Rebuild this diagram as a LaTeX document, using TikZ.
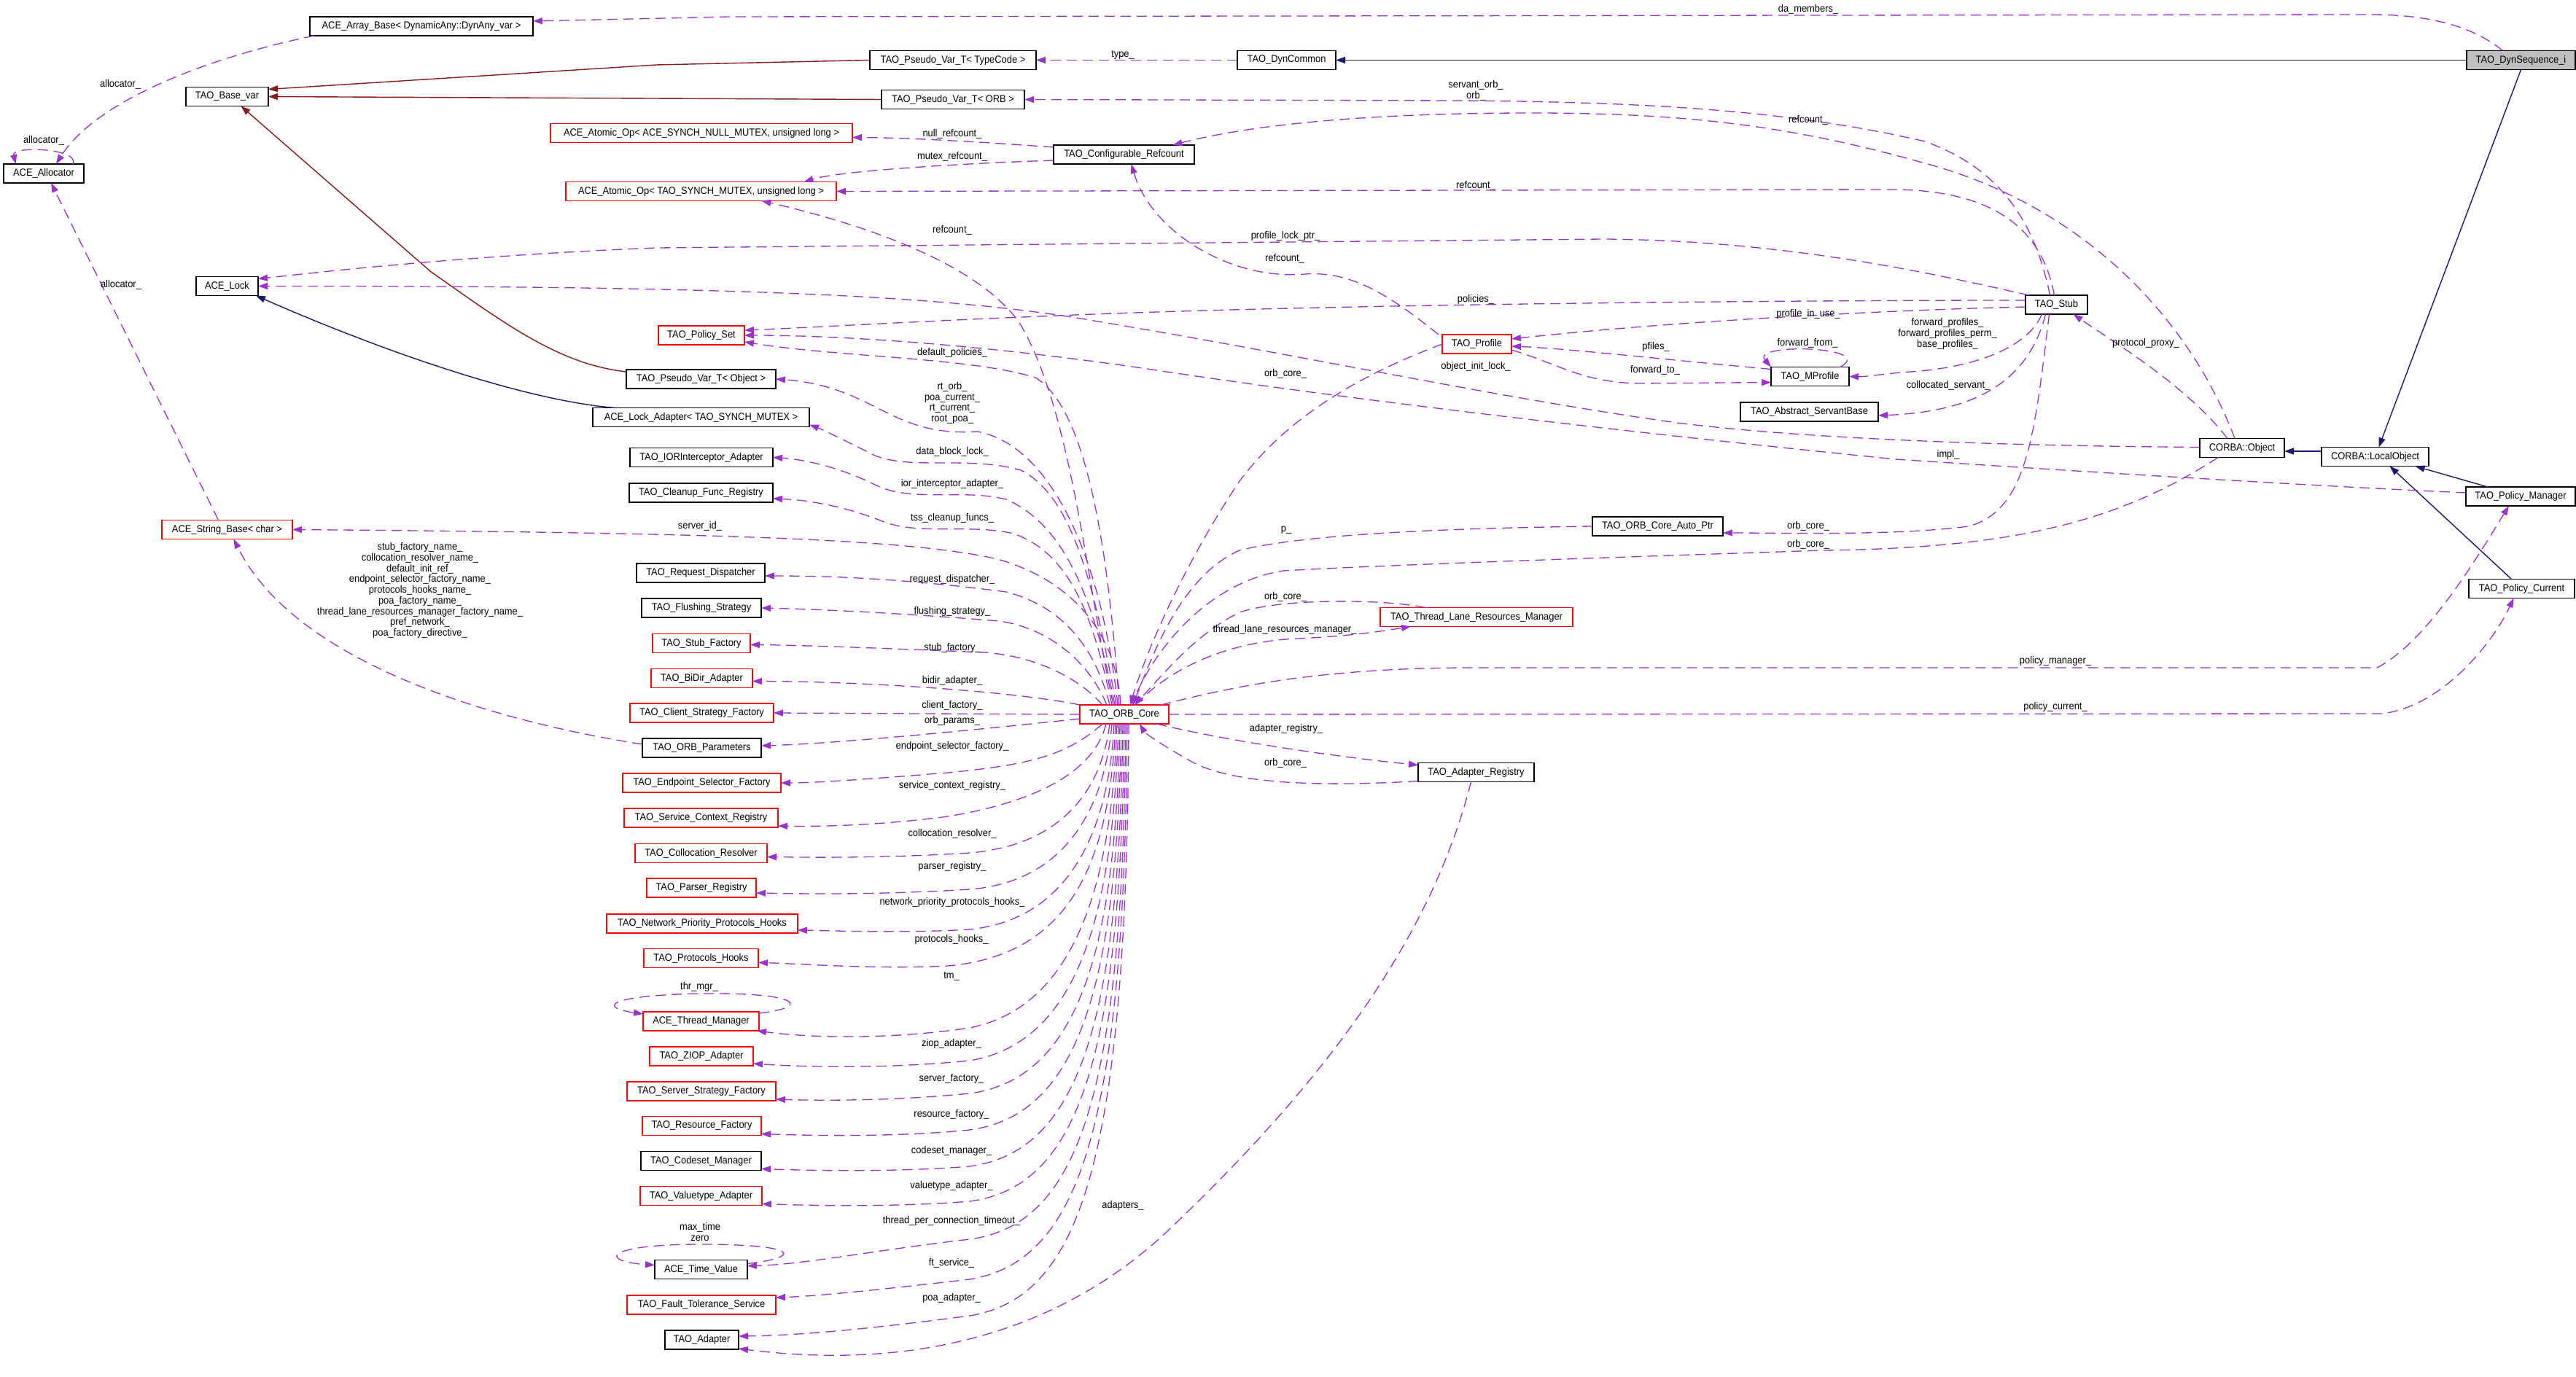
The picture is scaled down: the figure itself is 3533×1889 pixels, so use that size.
\documentclass[tikz,border=0pt]{standalone}
\usepackage{fontspec}
\setmainfont{Liberation Sans}[FakeStretch=0.92]
\usetikzlibrary{arrows.meta}
\definecolor{depc}{HTML}{9A32CD}
\definecolor{inhc}{HTML}{191970}
\definecolor{tmplc}{HTML}{8B1A1A}
\tikzset{
 nb/.style={draw=black, line width=1.2pt, inner sep=0pt, outer sep=0pt, minimum height=26pt, font=\fontsize{14}{15}\selectfont, fill=white},
 nr/.style={nb, draw=red},
 ng/.style={nb, fill={rgb,255:red,191;green,191;blue,191}},
 lab/.style={inner sep=0pt, font=\fontsize{14}{14.7}\selectfont, align=center},
 dep/.style={draw=depc, line width=1.3pt, dash pattern=on 14pt off 8pt, -{Triangle[length=13pt,width=9pt]}},
 inh/.style={draw=inhc, line width=1.4pt, -{Triangle[length=13pt,width=9pt]}},
 tmpl/.style={draw=tmplc, line width=1.4pt, -{Triangle[length=13pt,width=9pt]}},
}
\begin{document}
\begin{tikzpicture}[x=1pt,y=-1pt]
\fill[white] (0,0) rectangle (3533,1889);
\useasboundingbox (0,0) rectangle (3533,1889);
% nodes
\node[ng,minimum width=149pt] (dynseq) at (3457.5,82.5) {TAO\_DynSequence\_i};
\node[nb,minimum width=135pt] (dyncommon) at (1764.5,82.5) {TAO\_DynCommon};
\node[nb,minimum width=228pt] (pvtc) at (1307,82.5) {TAO\_Pseudo\_Var\_T< TypeCode >};
\node[nb,minimum width=306pt] (arraybase) at (578,36) {ACE\_Array\_Base< DynamicAny::DynAny\_var >};
\node[nb,minimum width=113pt] (basevar) at (311.5,132.5) {TAO\_Base\_var};
\node[nb,minimum width=110pt] (allocator) at (60,238) {ACE\_Allocator};
\node[nb,minimum width=196pt] (pvorb) at (1307,136.5) {TAO\_Pseudo\_Var\_T< ORB >};
\node[nr,minimum width=414pt] (atomicnull) at (962,182.5) {ACE\_Atomic\_Op< ACE\_SYNCH\_NULL\_MUTEX, unsigned long >};
\node[nb,minimum width=193pt] (confref) at (1541.5,212) {TAO\_Configurable\_Refcount};
\node[nr,minimum width=371pt] (atomicmutex) at (961.5,262.5) {ACE\_Atomic\_Op< TAO\_SYNCH\_MUTEX, unsigned long >};
\node[nb,minimum width=85pt] (acelock) at (311.5,392.5) {ACE\_Lock};
\node[nr,minimum width=118pt] (policyset) at (962,460) {TAO\_Policy\_Set};
\node[nb,minimum width=205pt] (pvobj) at (961.5,520) {TAO\_Pseudo\_Var\_T< Object >};
\node[nb,minimum width=297pt] (lockadapter) at (961.5,572.5) {ACE\_Lock\_Adapter< TAO\_SYNCH\_MUTEX >};
\node[nb,minimum width=196pt] (iorint) at (962,627.5) {TAO\_IORInterceptor\_Adapter};
\node[nb,minimum width=197pt] (cleanup) at (961.5,676) {TAO\_Cleanup\_Func\_Registry};
\node[nr,minimum width=179pt] (stringbase) at (311.5,726.5) {ACE\_String\_Base< char >};
\node[nb,minimum width=176pt] (reqdisp) at (961,786) {TAO\_Request\_Dispatcher};
\node[nb,minimum width=164pt] (flushing) at (962,834) {TAO\_Flushing\_Strategy};
\node[nr,minimum width=134pt] (stubfac) at (962,882.5) {TAO\_Stub\_Factory};
\node[nr,minimum width=139pt] (bidir) at (962.5,930.5) {TAO\_BiDir\_Adapter};
\node[nr,minimum width=197pt] (clientfac) at (962.5,978) {TAO\_Client\_Strategy\_Factory};
\node[nb,minimum width=163pt] (orbparams) at (962.5,1026) {TAO\_ORB\_Parameters};
\node[nr,minimum width=217pt] (endpoint) at (962.5,1074) {TAO\_Endpoint\_Selector\_Factory};
\node[nr,minimum width=211pt] (servctx) at (961.5,1122) {TAO\_Service\_Context\_Registry};
\node[nr,minimum width=181pt] (colloc) at (961.5,1170.5) {TAO\_Collocation\_Resolver};
\node[nr,minimum width=150pt] (parser) at (962,1218) {TAO\_Parser\_Registry};
\node[nr,minimum width=262pt] (netprio) at (963,1267) {TAO\_Network\_Priority\_Protocols\_Hooks};
\node[nr,minimum width=157pt] (prothooks) at (961.5,1314.5) {TAO\_Protocols\_Hooks};
\node[nr,minimum width=159pt] (thrmgr) at (961.5,1401) {ACE\_Thread\_Manager};
\node[nr,minimum width=142pt] (ziop) at (962,1449) {TAO\_ZIOP\_Adapter};
\node[nr,minimum width=204pt] (serverfac) at (962,1497) {TAO\_Server\_Strategy\_Factory};
\node[nr,minimum width=163pt] (resfac) at (962.5,1544.5) {TAO\_Resource\_Factory};
\node[nb,minimum width=165pt] (codeset) at (961.5,1592.5) {TAO\_Codeset\_Manager};
\node[nr,minimum width=167pt] (valuetype) at (961.5,1640.5) {TAO\_Valuetype\_Adapter};
\node[nb,minimum width=127pt] (timevalue) at (961.5,1741.5) {ACE\_Time\_Value};
\node[nr,minimum width=204pt] (ftserv) at (962,1790) {TAO\_Fault\_Tolerance\_Service};
\node[nb,minimum width=101pt] (adapter) at (962.5,1838) {TAO\_Adapter};
\node[nr,minimum width=122pt] (orbcore) at (1542,980) {TAO\_ORB\_Core};
\node[nr,minimum width=95pt] (profile) at (2025.5,472) {TAO\_Profile};
\node[nb,minimum width=107pt] (mprofile) at (2482.5,516.5) {TAO\_MProfile};
\node[nb,minimum width=189pt] (servantbase) at (2481.5,565) {TAO\_Abstract\_ServantBase};
\node[nb,minimum width=85pt] (stub) at (2820.5,418) {TAO\_Stub};
\node[nb,minimum width=116pt] (corbaobj) at (3075,614.5) {CORBA::Object};
\node[nb,minimum width=147pt] (localobj) at (3257.5,626.5) {CORBA::LocalObject};
\node[nb,minimum width=150pt] (polman) at (3457,681) {TAO\_Policy\_Manager};
\node[nb,minimum width=145pt] (polcur) at (3458.5,807.5) {TAO\_Policy\_Current};
\node[nb,minimum width=179pt] (autoptr) at (2273.5,722) {TAO\_ORB\_Core\_Auto\_Ptr};
\node[nr,minimum width=264pt] (tlrm) at (2025,846.5) {TAO\_Thread\_Lane\_Resources\_Manager};
\node[nb,minimum width=159pt] (adreg) at (2024.5,1059.5) {TAO\_Adapter\_Registry};
% inheritance / template edges
\draw[inh] (dynseq.west) -- (dyncommon.east);
\draw[inh] (dynseq.south) -- ([xshift=5pt]localobj.north);
\draw[inh] ([yshift=7.5pt]localobj.west) -- ([yshift=-4.5pt]corbaobj.east);
\draw[inh] ([xshift=-45pt]polman.north) -- ([xshift=55pt]localobj.south);
\draw[inh] ([xshift=-14pt]polcur.north) -- ([xshift=20pt]localobj.south);
\draw[inh] ([xshift=31pt]lockadapter.north west) .. controls (720,550) and (520,480) .. ([xshift=-3pt]acelock.south east);
\draw[tmpl] (pvtc.west) -- (900,89) -- ([yshift=10pt]basevar.east);
\draw[tmpl] (pvorb.west) -- (basevar.east);
\draw[tmpl] ([yshift=10pt]pvobj.west) .. controls (770,500) and (700,450) .. (590,372) -- ([xshift=19pt]basevar.south);
% dependency edges
\draw[dep] ([xshift=-25pt]dynseq.north) .. controls (3390,35) and (3330,20) .. (3250,20) -- (1000,23) -- ([yshift=7pt]arraybase.east);
\draw[dep] (dyncommon.west) -- (pvtc.east);
\draw[dep] ([xshift=6pt]arraybase.south west) .. controls (280,80) and (130,140) .. ([xshift=17pt]allocator.north);
\draw[dep] ([xshift=40pt]allocator.north) .. controls (110,203) and (15,200) .. ([xshift=-38pt]allocator.north);
\draw[dep] ([xshift=-12pt]stringbase.north) -- ([xshift=10pt]allocator.south);
\draw[dep] ([xshift=-5pt]orbcore.north) .. controls (1530,850) and (1450,790) .. (1368,767) .. controls (1250,740) and (1000,731) .. (stringbase.east);
\draw[dep] ([yshift=5pt]orbparams.west) .. controls (650,985) and (400,900) .. ([xshift=9pt]stringbase.south);
\draw[dep] ([yshift=10pt]confref.west) .. controls (1350,195) and (1250,189) .. ([yshift=-6pt]atomicnull.east);
\draw[dep] ([yshift=-8pt]confref.west) .. controls (1300,225) and (1150,235) .. ([xshift=141pt]atomicmutex.north);
\draw[dep] ([xshift=-10pt]corbaobj.north) .. controls (3000,430) and (2850,280) .. (2640,224) .. controls (2450,170) and (2300,155) .. (2100,155) .. controls (1850,155) and (1700,175) .. ([xshift=67pt]confref.north);
\draw[dep] ([xshift=-5pt]profile.north west) .. controls (1900,400) and (1850,372) .. (1790,376) .. controls (1690,385) and (1580,320) .. ([xshift=10pt]confref.south);
\draw[dep] ([xshift=-15pt]orbcore.north) .. controls (1490,800) and (1470,560) .. (1397,441) .. controls (1330,350) and (1150,300) .. ([xshift=83pt]atomicmutex.south);
\draw[dep] ([xshift=-3pt]stub.north) .. controls (2800,310) and (2730,262) .. (2600,260) -- (atomicmutex.east);
\draw[dep] ([xshift=-9pt]stub.north) .. controls (2790,300) and (2740,230) .. (2640,194) .. controls (2450,150) and (2250,140) .. (2000,138) -- (pvorb.east);
\draw[dep] ([xshift=5pt]stub.north west) .. controls (2650,375) and (2450,330) .. (2200,328) -- (900,340) .. controls (650,350) and (450,372) .. ([yshift=10pt]acelock.east);
\draw[dep] ([yshift=1pt]corbaobj.west) .. controls (2800,612) and (2500,605) .. (2300,580) .. controls (2050,545) and (1800,490) .. (1500,440) .. controls (1300,405) and (1000,392) .. (acelock.east);
\draw[dep] ([yshift=5pt]polman.west) .. controls (3200,668) and (2900,650) .. (2600,630) .. controls (2300,600) and (1900,555) .. (1600,510) .. controls (1350,472) and (1150,460) .. (policyset.east);
\draw[dep] ([yshift=6pt]stub.west) .. controls (2400,412) and (1800,418) .. (1450,433) .. controls (1250,441) and (1100,450) .. ([yshift=7pt]policyset.east);
\draw[dep] ([xshift=-7pt]orbcore.north) .. controls (1520,750) and (1490,560) .. (1420,518) .. controls (1330,490) and (1150,490) .. ([yshift=-9pt]policyset.east);
\draw[dep] ([xshift=-9pt]orbcore.north) .. controls (1510,760) and (1440,610) .. (1340,592) .. controls (1220,600) and (1200,530) .. (pvobj.east);
\draw[dep] ([xshift=-11pt]orbcore.north) .. controls (1500,800) and (1470,680) .. (1400,645) .. controls (1330,625) and (1250,645) .. (1200,625) .. controls (1160,605) and (1130,590) .. ([yshift=-10pt]lockadapter.east);
\draw[dep] ([xshift=-13pt]orbcore.north) .. controls (1500,820) and (1460,720) .. (1380,685) .. controls (1320,670) and (1250,690) .. (1200,665) .. controls (1150,640) and (1100,630) .. (iorint.east);
\draw[dep] ([xshift=-17pt]orbcore.north) .. controls (1500,850) and (1470,760) .. (1390,732) .. controls (1330,718) and (1260,735) .. (1210,715) .. controls (1160,695) and (1110,686) .. ([yshift=-8pt]cleanup.east);
\draw[dep] ([xshift=-20pt]orbcore.north) .. controls (1500,880) and (1450,830) .. (1380,812) .. controls (1250,795) and (1150,790) .. ([yshift=-4pt]reqdisp.east);
\draw[dep] ([xshift=-24pt]orbcore.north) .. controls (1490,900) and (1430,860) .. (1370,852) .. controls (1250,842) and (1130,836) .. (flushing.east);
\draw[dep] ([xshift=-30pt]orbcore.north) .. controls (1480,930) and (1420,900) .. (1350,895) .. controls (1230,890) and (1100,885) .. ([yshift=-2pt]stubfac.east);
\draw[dep] (orbcore.north west) .. controls (1400,950) and (1200,935) .. ([yshift=-4pt]bidir.east);
\draw[dep] (orbcore.west) -- (clientfac.east);
\draw[dep] ([yshift=-6pt]orbcore.west) .. controls (1350,1000) and (1150,1020) .. ([yshift=3pt]orbparams.east);
\draw[dep] ([xshift=-30pt]orbcore.south) .. controls (1460,1040) and (1400,1050) .. (1300,1060) .. controls (1200,1068) and (1120,1074) .. (endpoint.east);
\draw[dep] ([xshift=-25pt]orbcore.south) .. controls (1500,1060) and (1420,1100) .. (1300,1120) .. controls (1200,1133) and (1120,1134) .. ([yshift=-11pt]servctx.east);
\draw[dep] ([xshift=-20pt]orbcore.south) .. controls (1510,1090) and (1450,1160) .. (1330,1170) .. controls (1200,1178) and (1100,1176) .. ([yshift=-5pt]colloc.east);
\draw[dep] ([xshift=-17pt]orbcore.south) .. controls (1515,1110) and (1460,1210) .. (1330,1220) .. controls (1200,1228) and (1100,1226) .. ([yshift=-7pt]parser.east);
\draw[dep] ([xshift=-14pt]orbcore.south) .. controls (1520,1150) and (1460,1262) .. (1330,1275) .. controls (1250,1280) and (1150,1277) .. ([yshift=-9pt]netprio.east);
\draw[dep] ([xshift=-12pt]orbcore.south) .. controls (1522,1180) and (1470,1310) .. (1300,1325) .. controls (1200,1330) and (1100,1322) .. ([yshift=-6pt]prothooks.east);
\draw[dep] ([xshift=-10pt]orbcore.south) .. controls (1525,1200) and (1480,1380) .. (1330,1410) .. controls (1230,1425) and (1120,1425) .. ([xshift=-3pt]thrmgr.south east);
\draw[dep] ([yshift=-2pt]thrmgr.north east) .. controls (1110,1382) and (1100,1363) .. (980,1363) .. controls (850,1363) and (810,1380) .. ([yshift=-3pt]thrmgr.north west);
\draw[dep] ([xshift=-8pt]orbcore.south) .. controls (1527,1250) and (1480,1430) .. (1330,1455) .. controls (1230,1465) and (1120,1465) .. ([yshift=-10pt]ziop.east);
\draw[dep] ([xshift=-6pt]orbcore.south) .. controls (1530,1300) and (1480,1480) .. (1330,1500) .. controls (1230,1510) and (1130,1510) .. ([yshift=-11pt]serverfac.east);
\draw[dep] ([xshift=-4pt]orbcore.south) .. controls (1532,1350) and (1480,1530) .. (1330,1550) .. controls (1230,1560) and (1120,1558) .. ([yshift=-11pt]resfac.east);
\draw[dep] ([xshift=-2pt]orbcore.south) .. controls (1535,1400) and (1480,1580) .. (1330,1600) .. controls (1230,1608) and (1120,1606) .. ([yshift=-11pt]codeset.east);
\draw[dep] (orbcore.south) .. controls (1537,1450) and (1480,1628) .. (1330,1648) .. controls (1230,1656) and (1120,1654) .. ([yshift=-11pt]valuetype.east);
\draw[dep] ([xshift=2pt]orbcore.south) .. controls (1540,1500) and (1480,1680) .. (1330,1700) .. controls (1200,1715) and (1100,1735) .. ([yshift=5pt]timevalue.east);
\draw[dep] ([yshift=8pt]timevalue.east) .. controls (1100,1725) and (1100,1707) .. (960,1707) .. controls (830,1707) and (820,1730) .. ([yshift=6pt]timevalue.west);
\draw[dep] ([xshift=4pt]orbcore.south) .. controls (1542,1550) and (1480,1730) .. (1330,1755) .. controls (1200,1770) and (1120,1778) .. ([yshift=10pt]ftserv.east);
\draw[dep] ([xshift=6pt]orbcore.south) .. controls (1545,1600) and (1480,1780) .. (1330,1805) .. controls (1200,1822) and (1100,1832) .. ([yshift=5pt]adapter.east);
\draw[dep] ([xshift=-7pt]adreg.south) .. controls (1960,1300) and (1800,1500) .. (1600,1690) .. controls (1450,1830) and (1250,1880) .. ([yshift=-12pt]adapter.east);
\draw[dep] ([xshift=44pt]orbcore.south) .. controls (1700,1020) and (1850,1040) .. ([yshift=10pt]adreg.west);
\draw[dep] ([yshift=-12pt]adreg.west) .. controls (1800,1080) and (1680,1075) .. (1626,1040) .. controls (1590,1020) and (1570,1005) .. ([xshift=21pt]orbcore.south);
\draw[dep] ([xshift=-11pt]orbcore.north east) .. controls (1680,945) and (1800,916) .. (2020,916) -- (3260,916) .. controls (3330,880) and (3400,760) .. ([xshift=-16pt]polman.south);
\draw[dep] (orbcore.east) -- (3266,979) .. controls (3350,970) and (3420,880) .. ([xshift=-11pt]polcur.south);
\draw[dep] ([xshift=-20pt]corbaobj.north) .. controls (3000,530) and (2900,470) .. ([xshift=23pt]stub.south);
\draw[dep] ([yshift=-3pt]stub.west) .. controls (2600,425) and (2300,440) .. ([yshift=7pt]profile.east);
\draw[dep] ([yshift=10pt]mprofile.west) .. controls (2300,495) and (2150,478) .. ([yshift=-3pt]profile.east);
\draw[dep] ([yshift=-8pt]profile.east) .. controls (2140,500) and (2170,525) .. (2250,526) -- ([yshift=-8pt]mprofile.west);
\draw[dep] ([xshift=-12pt]mprofile.north east) .. controls (2575,475) and (2400,470) .. (mprofile.north west);
\draw[dep] ([xshift=-20pt]stub.south) .. controls (2780,480) and (2700,505) .. (2620,510) .. controls (2580,513) and (2560,517) .. (mprofile.east);
\draw[dep] ([xshift=-15pt]stub.south) .. controls (2780,530) and (2700,565) .. ([yshift=-5pt]servantbase.east);
\draw[dep] ([xshift=-10pt]stub.south) .. controls (2790,600) and (2780,700) .. (2700,722) .. controls (2600,735) and (2450,731) .. ([yshift=-9pt]autoptr.east);
\draw[dep] ([xshift=-33pt]corbaobj.south) .. controls (2900,720) and (2750,752) .. (2500,755) .. controls (2200,765) and (1900,775) .. (1760,783) .. controls (1650,800) and (1580,900) .. ([xshift=10pt]orbcore.north);
\draw[dep] (autoptr.west) .. controls (1950,725) and (1780,735) .. (1700,755) .. controls (1620,790) and (1580,900) .. ([xshift=12pt]orbcore.north);
\draw[dep] ([xshift=62pt]tlrm.north west) .. controls (1900,822) and (1760,820) .. (1700,840) .. controls (1640,870) and (1600,920) .. ([xshift=14pt]orbcore.north);
\draw[dep] ([xshift=16pt]orbcore.north) .. controls (1600,920) and (1680,880) .. (1780,876) .. controls (1860,872) and (1900,865) .. ([xshift=42pt]tlrm.south west);
\draw[dep] (profile.west) .. controls (1850,520) and (1760,580) .. (1700,660) .. controls (1620,780) and (1570,900) .. ([xshift=8pt]orbcore.north);
% labels
\node[lab] (l01) at (2480,13) {da\_members\_};
\node[lab] (l02) at (1540,75) {type\_};
\node[lab] (l03) at (165,116) {allocator\_};
\node[lab] (l04) at (60,193) {allocator\_};
\node[lab] (l05) at (166,391) {allocator\_};
\node[lab] (l06) at (2024,124) {servant\_orb\_\\orb\_};
\node[lab] (l07) at (2480,165) {refcount\_};
\node[lab] (l08) at (1306,184) {null\_refcount\_};
\node[lab] (l09) at (1306,215) {mutex\_refcount\_};
\node[lab] (l10) at (2024,255) {refcount\_};
\node[lab] (l11) at (1306,316) {refcount\_};
\node[lab] (l12) at (1763,324) {profile\_lock\_ptr\_};
\node[lab] (l13) at (1762,355) {refcount\_};
\node[lab] (l14) at (2024,411) {policies\_};
\node[lab] (l15) at (2480,431) {profile\_in\_use\_};
\node[lab] (l16) at (2671,458) {forward\_profiles\_\\forward\_profiles\_perm\_\\base\_profiles\_};
\node[lab] (l17) at (2943,471) {protocol\_proxy\_};
\node[lab] (l18) at (2271,476) {pfiles\_};
\node[lab] (l19) at (2479,471) {forward\_from\_};
\node[lab] (l20) at (1306,484) {default\_policies\_};
\node[lab] (l21) at (2024,503) {object\_init\_lock\_};
\node[lab] (l22) at (2270,508) {forward\_to\_};
\node[lab] (l23) at (1763,513) {orb\_core\_};
\node[lab] (l24) at (2672,529) {collocated\_servant\_};
\node[lab] (l25) at (1306,553) {rt\_orb\_\\poa\_current\_\\rt\_current\_\\root\_poa\_};
\node[lab] (l26) at (1306,620) {data\_block\_lock\_};
\node[lab] (l27) at (2672,624) {impl\_};
\node[lab] (l28) at (1306,664) {ior\_interceptor\_adapter\_};
\node[lab] (l29) at (1306,711) {tss\_cleanup\_funcs\_};
\node[lab] (l30) at (960,722) {server\_id\_};
\node[lab] (l31) at (2480,722) {orb\_core\_};
\node[lab] (l32) at (1764,727) {p\_};
\node[lab] (l33) at (2480,747) {orb\_core\_};
\node[lab] (l34) at (576,810) {stub\_factory\_name\_\\collocation\_resolver\_name\_\\default\_init\_ref\_\\endpoint\_selector\_factory\_name\_\\protocols\_hooks\_name\_\\poa\_factory\_name\_\\thread\_lane\_resources\_manager\_factory\_name\_\\pref\_network\_\\poa\_factory\_directive\_};
\node[lab] (l35) at (1306,795) {request\_dispatcher\_};
\node[lab] (l36) at (1763,819) {orb\_core\_};
\node[lab] (l37) at (1306,839) {flushing\_strategy\_};
\node[lab] (l38) at (1762,864) {thread\_lane\_resources\_manager\_};
\node[lab] (l39) at (1306,889) {stub\_factory\_};
\node[lab] (l40) at (2819,907) {policy\_manager\_};
\node[lab] (l41) at (1306,934) {bidir\_adapter\_};
\node[lab] (l42) at (1306,968) {client\_factory\_};
\node[lab] (l43) at (2819,970) {policy\_current\_};
\node[lab] (l44) at (1306,989) {orb\_params\_};
\node[lab] (l45) at (1764,1000) {adapter\_registry\_};
\node[lab] (l46) at (1306,1024) {endpoint\_selector\_factory\_};
\node[lab] (l47) at (1763,1047) {orb\_core\_};
\node[lab] (l48) at (1306,1078) {service\_context\_registry\_};
\node[lab] (l49) at (1306,1144) {collocation\_resolver\_};
\node[lab] (l50) at (1306,1189) {parser\_registry\_};
\node[lab] (l51) at (1306,1238) {network\_priority\_protocols\_hooks\_};
\node[lab] (l52) at (1305,1289) {protocols\_hooks\_};
\node[lab] (l53) at (1305,1339) {tm\_};
\node[lab] (l54) at (959,1354) {thr\_mgr\_};
\node[lab] (l55) at (1305,1432) {ziop\_adapter\_};
\node[lab] (l56) at (1305,1480) {server\_factory\_};
\node[lab] (l57) at (1305,1529) {resource\_factory\_};
\node[lab] (l58) at (1305,1579) {codeset\_manager\_};
\node[lab] (l59) at (1305,1627) {valuetype\_adapter\_};
\node[lab] (l60) at (1540,1654) {adapters\_};
\node[lab] (l61) at (1305,1675) {thread\_per\_connection\_timeout\_};
\node[lab] (l62) at (960,1690) {max\_time\\zero};
\node[lab] (l63) at (1305,1733) {ft\_service\_};
\node[lab] (l64) at (1305,1781) {poa\_adapter\_};
\end{tikzpicture}
\end{document}
